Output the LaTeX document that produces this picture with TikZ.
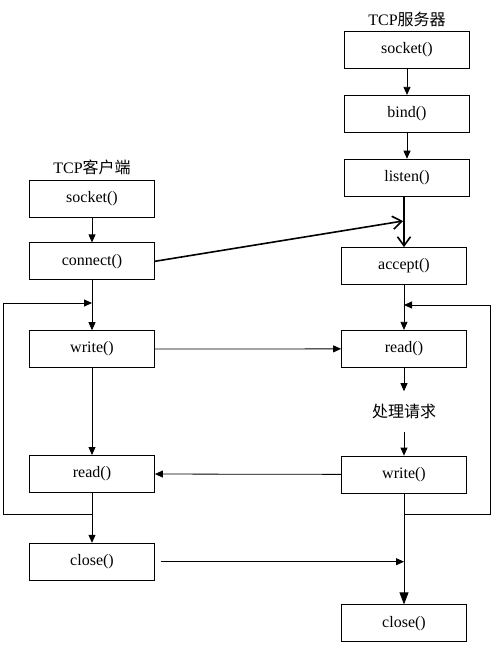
\documentclass[tikz,border=0pt]{standalone}
\usepackage{fontspec}
\setmainfont{Liberation Serif}
\newfontfamily\cjk{Noto Sans CJK SC}
\usetikzlibrary{positioning,arrows.meta}

\begin{document}
\begin{tikzpicture}[x=1pt, y=-1pt, node distance=25pt,
  every node/.style={font=\fontsize{16}{18}\selectfont, align=center},
  callbox/.style={draw, line width=0.8pt, minimum width=125pt,
        minimum height=37pt, inner sep=0pt},
  flow/.style={-{Triangle[length=8pt,width=7pt]}, line width=0.8pt},
  sync/.style={-{Straight Barb[length=9pt,width=13pt]}, line width=1.6pt}]
  \useasboundingbox (0,0) rectangle (495,646);
  % client side
  \node[callbox] (csock) at (92,198.5) {socket()};
  \node[callbox, below=25pt of csock] (cconn) {connect()};
  \node[callbox, below=50pt of cconn] (cwrite) {write()};
  \node[callbox, below=87pt of cwrite] (cread) {read()};
  \node[callbox, below=50pt of cread] (cclose) {close()};
  \node[above=1pt of csock] (client) {TCP{\cjk 客户端}};
  % server side
  \node[callbox] (ssock) at (407,50) {socket()};
  \node[callbox, below=26pt of ssock] (sbind) {bind()};
  \node[callbox, below=26pt of sbind] (slisten) {listen()};
  \node[callbox] (saccept) at (404,266) {accept()};
  \node[callbox, below=45pt of saccept] (sread) {read()};
  \node[minimum height=40pt, inner sep=0pt, below=23.5pt of sread] (handle) {\cjk 处理请求};
  \node[callbox, below=24pt of handle] (swrite) {write()};
  \node[callbox, below=111pt of swrite] (sclose) {close()};
  \node[above=1pt of ssock] (server) {TCP{\cjk 服务器}};
  % client flow
  \draw[flow] (csock) -- (cconn);
  \draw[flow] (cconn) -- (cwrite);
  \draw[flow] (cwrite) -- (cread);
  \draw[flow] (cread) -- (cclose);
  \coordinate (cfork) at (cread.south |- 0,514);
  \coordinate (cjoin) at (cconn.south |- 0,303);
  \draw[flow] (cfork) -- ++(-89,0) |- (cjoin);
  % server flow
  \draw[flow] (ssock) -- (sbind);
  \draw[flow] (sbind) -- (slisten);
  \draw[sync] (slisten.south -| saccept) -- (saccept);
  \draw[flow] (saccept) -- (sread);
  \draw[flow] (sread) -- (handle);
  \draw[flow] (handle) -- (swrite);
  \draw[-{Triangle[length=12pt,width=9pt]}, line width=0.8pt] (swrite) -- (sclose);
  \coordinate (sfork) at (swrite.south |- 0,514);
  \coordinate (sjoin) at (saccept.south |- 0,305);
  \draw[flow] (sfork) -- ++(86,0) |- (sjoin);
  % between the two
  \coordinate (meet) at (403,221);
  \draw[sync] (cconn.east) -- (meet);
  \draw[flow] (cwrite) -- (sread);
  \draw[flow] (swrite) -- (cread);
  \draw[flow] ([xshift=6pt]cclose.east) -- (cclose.east -| sclose.north);
\end{tikzpicture}
\end{document}
